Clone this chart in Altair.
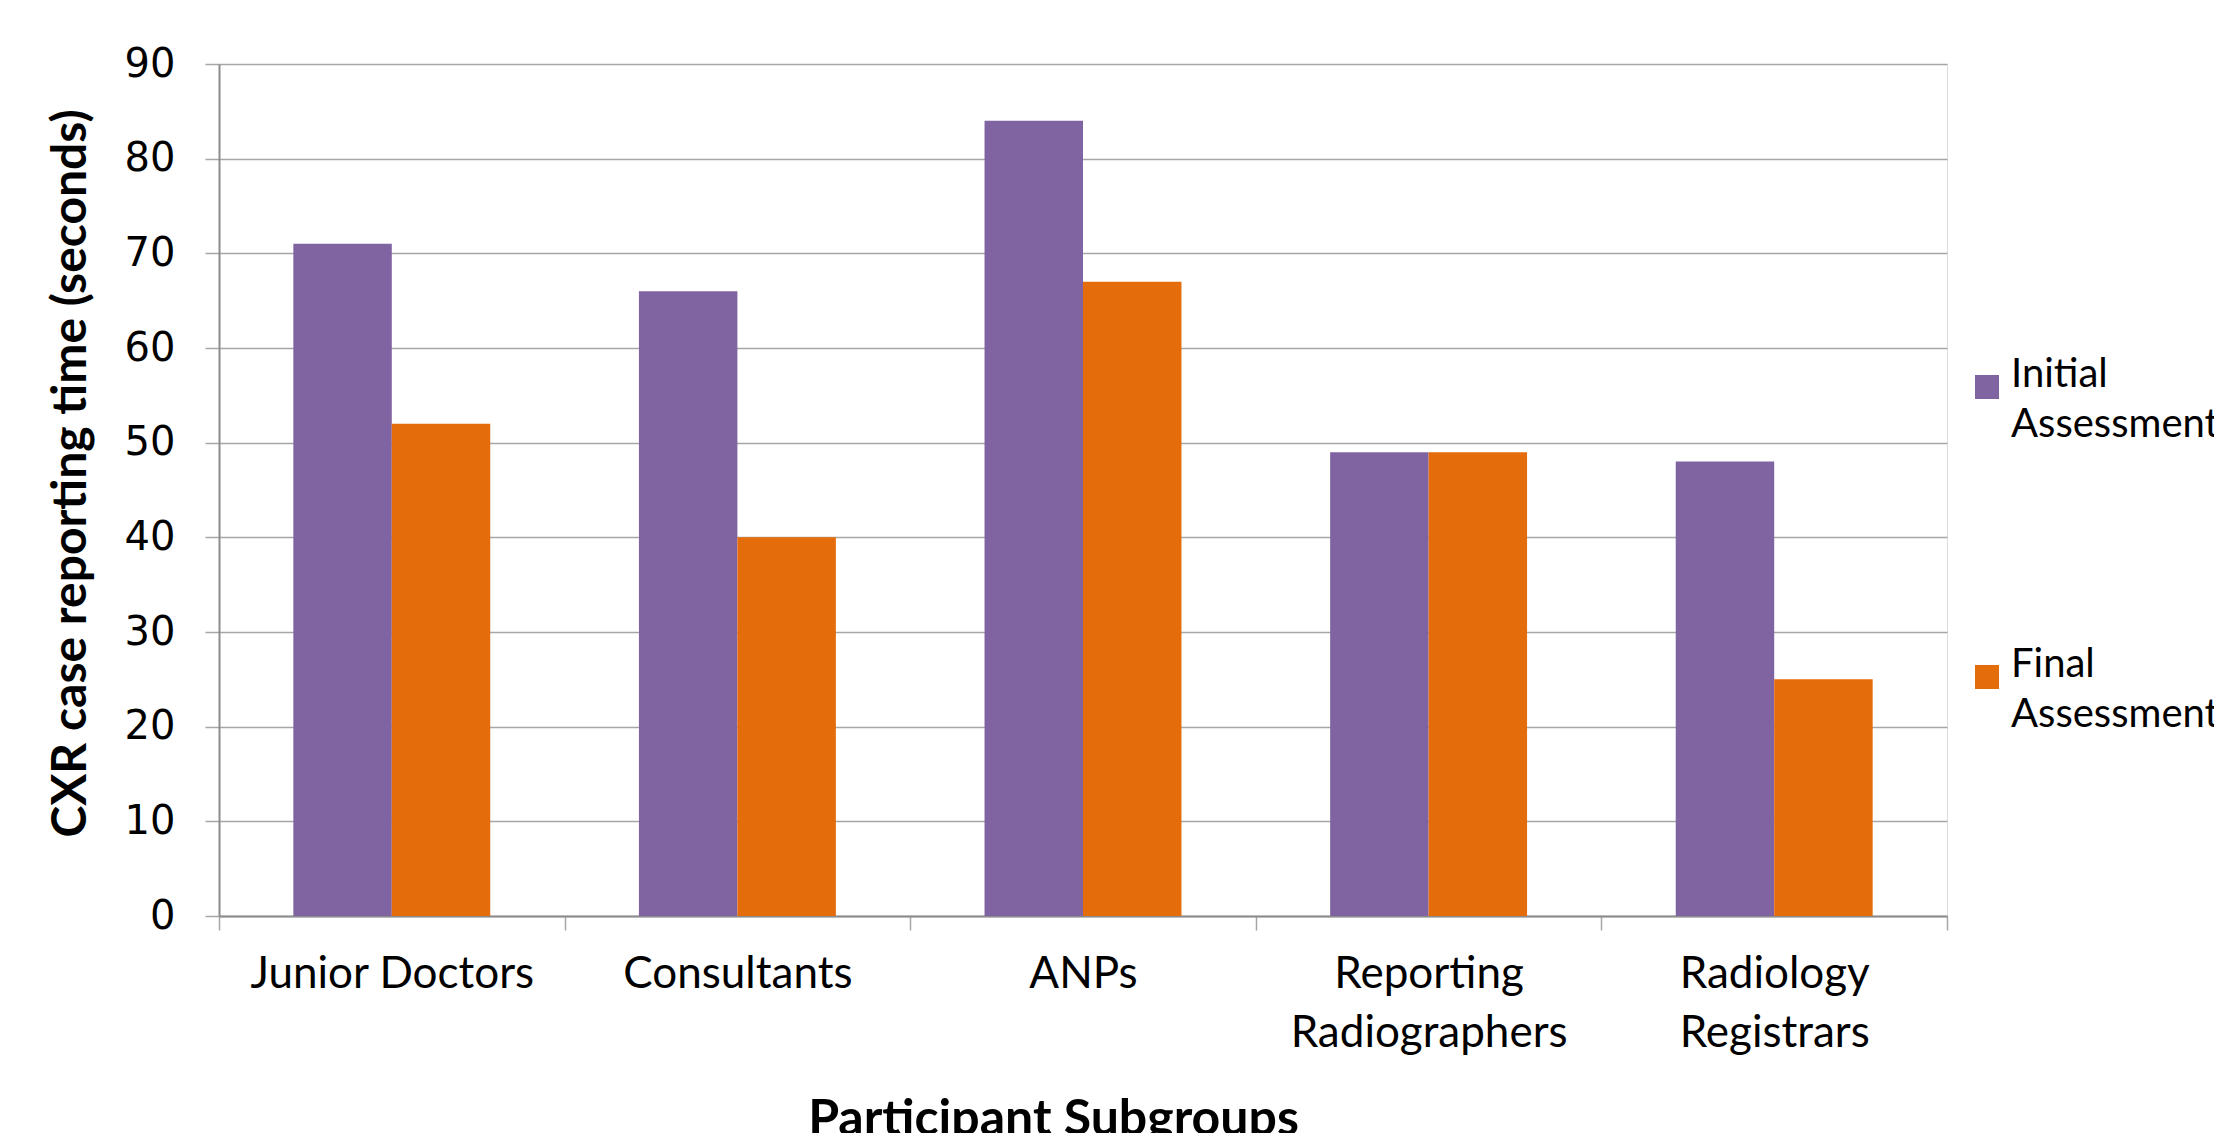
import altair as alt
import pandas as pd

groups = ["Junior Doctors", "Consultants", "ANPs", "Reporting Radiographers", "Radiology Registrars"]
series = ["Initial Assessment", "Final Assessment"]
initial = [71, 66, 84, 49, 48]
final = [52, 40, 67, 49, 25]
colors = ["#8064A2", "#E46C0A"]

rows = []
for g, a, b in zip(groups, initial, final):
    rows.append({"group": g, "series": series[0], "value": a})
    rows.append({"group": g, "series": series[1], "value": b})
df = pd.DataFrame(rows)

FONT = "Lato"
GRID = "#A6A6A6"

chart = alt.Chart(df).mark_bar().encode(
    x=alt.X("group:N", sort=groups,
            scale=alt.Scale(paddingInner=0, paddingOuter=0),
            axis=alt.Axis(title="Participant Subgroups", labelAngle=0,
                          labelExpr="datum.label == 'Junior Doctors' ? datum.label : split(datum.label, ' ')",
                          labelFont=FONT, labelFontSize=44, labelColor="#000000", labelLimit=600,
                          labelLineHeight=59, labelPadding=22, labelBaseline="top",
                          tickBand="extent", tickSize=14, tickColor=GRID, domainColor="#8C8C8C",
                          domainWidth=2, tickWidth=1.5,
                          titleFont=FONT, titleFontSize=50, titleFontWeight="bold",
                          titleColor="#000000", titleX=834, titleY=178,
                          titleBaseline="top", titleAlign="center")),
    xOffset=alt.XOffset("series:N", sort=series,
                        scale=alt.Scale(paddingInner=0, paddingOuter=0.755)),
    y=alt.Y("value:Q", scale=alt.Scale(domain=[0, 90], nice=False),
            axis=alt.Axis(title="CXR case reporting time (seconds)", values=list(range(0, 91, 10)),
                          labelFont="DejaVu Sans", labelFontSize=40, labelColor="#000000",
                          labelPadding=30, tickSize=14, tickColor=GRID, gridColor=GRID,
                          gridWidth=1.5, tickWidth=1.5, domainColor="#8C8C8C", domainWidth=2,
                          titleFont=FONT, titleFontSize=48, titleFontWeight="bold",
                          titleColor="#000000", titleX=-124, titleY=409,
                          titleAlign="center")),
    color=alt.Color("series:N", sort=series,
                    scale=alt.Scale(domain=series, range=colors),
                    legend=alt.Legend(title=None, orient="none", legendX=1748, legendY=303,
                                      symbolType="square", symbolSize=576, symbolStrokeWidth=0,
                                      labelFont=FONT, labelFontSize=40, labelColor="#000000",
                                      labelExpr="split(datum.label, ' ')",
                                      labelBaseline="alphabetic", labelOffset=4, labelLimit=500,
                                      rowPadding=200, padding=0)),
).properties(
    width=1728, height=852,
    autosize=alt.AutoSizeParams(type="none"),
    padding={"left": 219, "top": 64, "right": 267, "bottom": 217},
    background="#FFFFFF",
).configure_view(stroke=None).configure(
    style={"guide-label": {"lineHeight": 50}}
)

chart.save("out.html", embed_options={"renderer": "svg", "actions": False})
